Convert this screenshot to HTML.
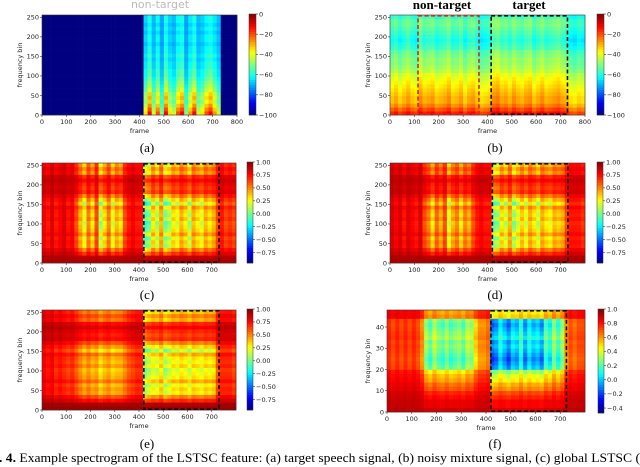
<!DOCTYPE html>
<html><head><meta charset="utf-8"><style>
html,body{margin:0;padding:0;background:#fff;width:640px;height:467px;overflow:hidden}
svg text{font-family:"DejaVu Sans","Liberation Sans",sans-serif}
.cap{font-family:"Liberation Serif",serif;font-size:13px}
</style></head><body>
<svg id="fig" width="640" height="467" xmlns="http://www.w3.org/2000/svg">
<text x="160" y="8" font-family="Liberation Serif" font-size="11" fill="#bbb" text-anchor="middle">non-target</text>
<text x="442" y="9" class="cap" font-weight="bold" font-size="11" text-anchor="middle">non-target</text>
<text x="529" y="9" class="cap" font-weight="bold" font-size="11" text-anchor="middle">target</text>
<text x="-1" y="462" class="cap" font-size="13.6" textLength="641" lengthAdjust="spacingAndGlyphs"><tspan font-weight="bold">. 4.</tspan> Example spectrogram of the LSTSC feature: (a) target speech signal, (b) noisy mixture signal, (c) global LSTSC (</text>
</svg>
<script>
// ---- data ----
const colA=[0,0,0,0,0,0,0,0,0,0,0,0,0,0,0,0,0,0,0,0,0,0,0,0,0,0.6,0.9,0.5,0.8,0.4,0.9,0.6,0.5,0.8,0.9,0.4,0.7,0.9,0.5,0.6,0.8,0.9,0.7,0.5,0,0,0,0];
const rowA=[1,0.9,0.8,0.7,0.75,0.7,0.6,0.55,0.5,0.45,0.4,0.4,0.35,0.35,0.3,0.35,0.3,0.3,0.25,0.3,0.3,0.25,0.3,0.25,0.3,0.3];
const colB=[0.5,0.7,0.4,0.6,0.8,0.5,0.4,0.9,0.6,0.7,0.8,0.5,0.6,0.7,0.9,0.5,0.6,0.8,0.4,0.7,0.8,0.5,0.3,0.4,0.5,0.9,1,0.7,0.8,0.6,0.9,0.7,0.6,0.8,0.9,0.5,0.7,0.9,0.6,0.7,0.8,0.9,0.7,0.6,0.3,0.2,0.4,0.3];
const rowB=[1,0.85,0.7,0.6,0.6,0.55,0.5,0.45,0.4,0.35,0.3,0.2,0.15,0.1,0.1,0.05,0,-0.1,-0.15,-0.2,-0.15,-0.1,-0.05,0,0,-0.1];
const colC=[0.15,0.2,0.1,0.2,0.15,0.1,0.2,0.15,0.3,0.5,0.7,0.4,0.6,0.3,0.8,0.6,0.4,0.7,0.5,0.6,0.3,0.2,0.15,0.2,0.2,1,0.9,0.6,0.8,0.5,0.9,0.8,0.6,0.7,0.5,0.6,0.8,0.5,0.6,0.7,0.5,0.6,0.5,0.3,0.2,0.3,0.25,0.3];
const colD=[0.1,0.15,0.1,0.2,0.1,0.15,0.2,0.1,0.3,0.4,0.6,0.35,0.5,0.3,0.7,0.5,0.4,0.6,0.4,0.5,0.3,0.2,0.15,0.2,0.2,0.9,0.85,0.6,0.75,0.5,0.85,0.7,0.55,0.7,0.5,0.6,0.75,0.5,0.6,0.65,0.5,0.55,0.5,0.3,0.2,0.2,0.2,0.25];
const colE=[0.2,0.25,0.2,0.3,0.25,0.3,0.35,0.3,0.4,0.5,0.6,0.5,0.6,0.55,0.7,0.6,0.55,0.65,0.6,0.6,0.5,0.4,0.35,0.3,0.3,1,0.9,0.8,0.85,0.7,0.95,0.85,0.75,0.8,0.7,0.75,0.85,0.7,0.75,0.8,0.7,0.75,0.7,0.4,0.3,0.3,0.3,0.35];
const rowC=[0,0.05,0.3,0.5,0.75,0.7,0.8,0.6,0.75,0.8,0.85,0.7,0.8,0.75,0.6,0.9,0.7,0.5,0.3,0.35,0.3,0.2,0.3,0.6,0.5,0.65];
const colF=[0.15,0.2,0.15,0.2,0.15,0.2,0.15,0.2,0.3,0.6,0.7,0.55,0.65,0.7,0.6,0.7,0.65,0.6,0.7,0.55,0.6,0.4,0.3,0.3,0.25,1,0.95,0.8,0.9,1,0.85,0.9,0.75,0.95,0.8,0.9,0.85,0.95,0.7,0.8,0.6,0.75,0.6,0.3,0.2,0.25,0.2,0.2];
const rowF=[0.05,0.1,0.1,0.15,0.2,0.3,0.35,0.45,0.5,0.6,0.9,0.95,1,0.95,0.9,0.85,0.9,0.8,0.85,0.9,0.95,0.9,0.4,0.45];
const xTicks=[0,100,200,300,400,500,600,700,800];
const xTicks2=[0,100,200,300,400,500,600,700];
const yTicks=[0,50,100,150,200,250];
const yTicksF=[0,10,20,30,40];
const cbDb=[0,-20,-40,-60,-80,-100];
const cbC=[1.00,0.75,0.50,0.25,0.00,-0.25,-0.50,-0.75];
const cbF=[1.0,0.8,0.6,0.4,0.2,0.0,-0.2,-0.4];

const NS="http://www.w3.org/2000/svg";
const svg=document.getElementById('fig');
function mk(t,a,p){const e=document.createElementNS(NS,t);for(const k in a)e.setAttribute(k,a[k]);(p||svg).appendChild(e);return e;}
function jet(t){t=Math.max(0,Math.min(1,t));
  const r=Math.max(0,Math.min(1,Math.min(4*t-1.5,-4*t+4.5)));
  const g=Math.max(0,Math.min(1,Math.min(4*t-0.5,-4*t+3.5)));
  const b=Math.max(0,Math.min(1,Math.min(4*t+0.5,-4*t+2.5)));
  return `rgb(${Math.round(r*255)},${Math.round(g*255)},${Math.round(b*255)})`;}

function panel(P){
  const g=mk('g',{});
  
  
  const nc=P.cols.length,nr=P.rows.length,cw=P.w/nc,rh=P.h/nr;
  const hm=mk('g',{},g);
  
  
  for(let c=0;c<nc;c++)for(let r=0;r<nr;r++){
    const v=P.val(P.cols[c],P.rows[r],c,r);
    const el=mk('rect',{x:(P.x+c*cw).toFixed(2),y:(P.y+P.h-(r+1)*rh).toFixed(2),width:(cw+0.3).toFixed(2),height:(rh+0.3).toFixed(2),fill:jet((v-P.vmin)/(P.vmax-P.vmin))},hm);
    
    
  }
  mk('rect',{x:P.x,y:P.y,width:P.w,height:P.h,fill:'none',stroke:'#333','stroke-width':0.6},g);
  const sx=v=>P.x+v/P.xmax*P.w, sy=v=>P.y+P.h-v/P.ymax*P.h;
  P.xt.forEach(t=>{const X=sx(t);mk('line',{x1:X,x2:X,y1:P.y+P.h,y2:P.y+P.h+2,stroke:'#333','stroke-width':0.6},g);
    const tx=mk('text',{x:X,y:P.y+P.h+9,'font-size':6.5,'text-anchor':'middle',fill:'#222'},g);tx.textContent=t;
    });
  P.yt.forEach(t=>{const Y=sy(t);mk('line',{x1:P.x-2,x2:P.x,y1:Y,y2:Y,stroke:'#333','stroke-width':0.6},g);
    const tx=mk('text',{x:P.x-3,y:Y+2.3,'font-size':6.5,'text-anchor':'end',fill:'#222'},g);tx.textContent=t;
    });
  const xl=mk('text',{x:P.x+P.w/2,y:P.y+P.h+18,'font-size':6.5,'text-anchor':'middle',fill:'#222'},g);xl.textContent='frame';
  
  const yx=P.x-(P.id==='f'?17:20), yy=P.y+P.h/2;
  const yl=mk('text',{x:yx,y:yy,'font-size':6.5,'text-anchor':'middle',fill:'#222',transform:`rotate(-90 ${yx} ${yy})`},g);yl.textContent='frequency bin';
  
  (P.boxes||[]).forEach(b=>{const bx=mk('rect',{x:sx(b[0]),y:P.y+0.8,width:sx(b[1])-sx(b[0]),height:P.h-1.6,fill:'none',stroke:b[2],'stroke-width':1.6,'stroke-dasharray':'4 2.5'},g);
    });
  const cb=mk('g',{},g);
  const N=40;for(let i=0;i<N;i++){mk('rect',{x:P.cbx,y:P.cby+P.cbh-(i+1)*P.cbh/N,width:P.cbw,height:P.cbh/N+0.3,fill:jet((i+0.5)/N)},cb);}
  mk('rect',{x:P.cbx,y:P.cby,width:P.cbw,height:P.cbh,fill:'none',stroke:'#333','stroke-width':0.5},cb);
  P.cbt.forEach(t=>{const Y=P.cby+P.cbh-(t-P.vmin)/(P.vmax-P.vmin)*P.cbh;
    mk('line',{x1:P.cbx+P.cbw,x2:P.cbx+P.cbw+2,y1:Y,y2:Y,stroke:'#333','stroke-width':0.6},cb);
    const tx=mk('text',{x:P.cbx+P.cbw+3,y:Y+2.3,'font-size':6.5,fill:'#222'},cb);
    tx.textContent=(t<0?'\u2212':'')+Math.abs(t).toFixed(P.dec);
    });
  const cp=mk('text',{x:P.capx,y:P.capy,class:'cap','text-anchor':'middle','font-size':14},g);cp.textContent='('+P.id+')';
  
}
const fc=(a,b)=>0.92-1.3*a*b;
panel({id:'a',x:42,y:15,w:195,h:100,cols:colA,rows:rowA,val:(a,b)=>a>0?-80+75*a*b:-100,vmin:-100,vmax:0,xmax:800,ymax:256,xt:xTicks,yt:yTicks,boxes:[],cbx:249,cby:14,cbw:7,cbh:101,cbt:cbDb,dec:0,capx:147,capy:152});
panel({id:'b',x:390,y:15,w:195,h:100,cols:colB,rows:rowB,val:(a,b)=>-62+15*a+38*b,vmin:-100,vmax:0,xmax:800,ymax:256,xt:xTicks,yt:yTicks,boxes:[[115,365,'#d22'],[415,728,'#111']],cbx:597,cby:14,cbw:7,cbh:101,cbt:cbDb,dec:0,capx:495,capy:152});
panel({id:'c',x:42,y:163,w:194,h:100,cols:colC,rows:rowC,val:fc,vmin:-0.95,vmax:1,xmax:800,ymax:256,xt:xTicks2,yt:yTicks,boxes:[[420,730,'#111']],cbx:247,cby:162,cbw:6,cbh:101,cbt:cbC,dec:2,capx:147,capy:299});
panel({id:'d',x:390,y:163,w:195,h:100,cols:colD,rows:rowC,val:fc,vmin:-0.95,vmax:1,xmax:800,ymax:256,xt:xTicks2,yt:yTicks,boxes:[[420,730,'#111']],cbx:597,cby:162,cbw:6,cbh:101,cbt:cbC,dec:2,capx:495,capy:299});
panel({id:'e',x:42,y:310,w:194,h:100,cols:colE,rows:rowC,val:(a,b)=>0.95-1.15*a*b,vmin:-0.95,vmax:1,xmax:800,ymax:256,xt:xTicks2,yt:yTicks,boxes:[[420,730,'#111']],cbx:247,cby:309,cbw:6,cbh:101,cbt:cbC,dec:2,capx:147,capy:448});
panel({id:'f',x:387,y:310,w:198,h:102,cols:colF,rows:rowF,val:(a,b)=>0.92-1.15*a*b,vmin:-0.47,vmax:1,xmax:800,ymax:48,xt:xTicks2,yt:yTicksF,boxes:[[420,725,'#111']],cbx:598,cby:309,cbw:6,cbh:104,cbt:cbF,dec:1,capx:495,capy:448});
</script>
</body></html>
